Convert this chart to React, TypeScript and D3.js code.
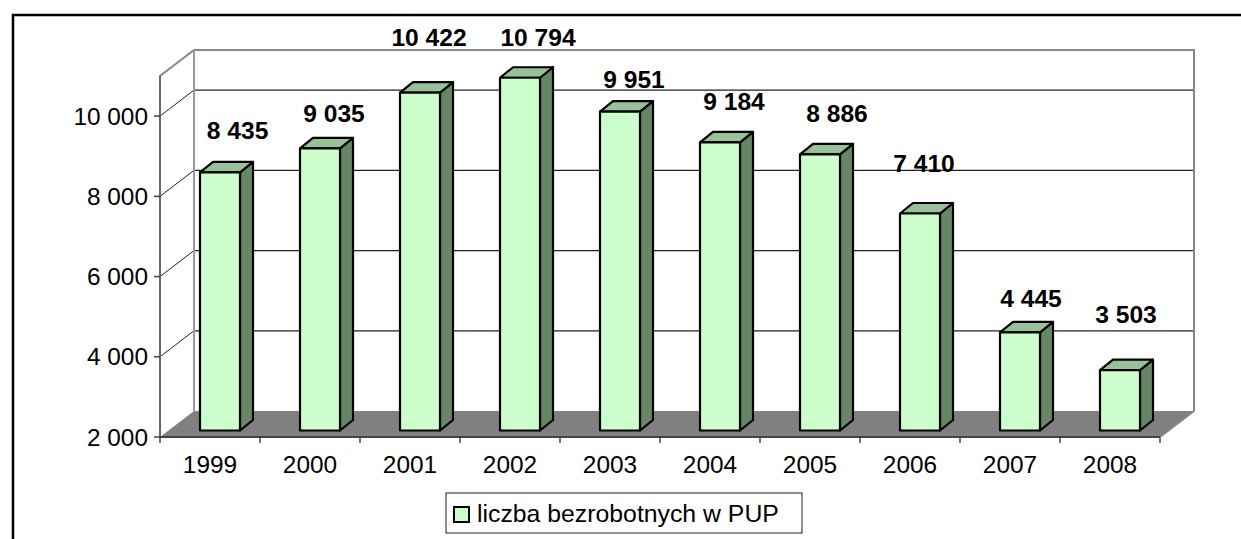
import React from "react";
import * as d3 from "d3";

const years = ["1999", "2000", "2001", "2002", "2003", "2004", "2005", "2006", "2007", "2008"];
const unemployed = [8435, 9035, 10422, 10794, 9951, 9184, 8886, 7410, 4445, 3503];
const yTicks = [2000, 4000, 6000, 8000, 10000];
const seriesName = "liczba bezrobotnych w PUP";

// label placement tweaks (layout, px) relative to bar top
const labelShift: [number, number][] = [
  [17.6, -33], [14, -26.5], [9, -46.5], [18, -31.6], [14, -23.5],
  [14, -32], [17, -32], [4, -41.5], [11, -25.5], [6, -47],
];

const fmt = (v: number) => d3.format(",")(v).replace(/,/g, " ");

export default function App() {
  const W = 1241, H = 539;
  const x0 = 160, x1 = 1160;
  const yBase = 437, yTop = 76;
  const DX = 34, DY = -26; // depth projection
  const bz1x = 10, bz1y = -6.5; // bar front face offset
  const bdx = 13, bdy = -10.5; // bar depth
  const barW = 40;

  const x = d3.scaleBand<string>().domain(years).range([x0, x1]).padding(0);
  const y = d3.scaleLinear().domain([2000, 11000]).range([yBase, yTop]);

  const front = "#CCFFCC", top = "#99C199", side = "#668766";
  const font = "'Liberation Sans', Arial, sans-serif";

  const wallTop = y(11000);

  return (
    <svg width={W} height={H} style={{ position: "absolute", left: 0, top: 0, background: "#fff" }} fontFamily={font}>
      {/* outer border */}
      <rect x={13} y={15} width={1260} height={560} fill="none" stroke="#000" strokeWidth={2.5} />

      {/* floor */}
      <polygon
        points={`${x0},${yBase} ${x1},${yBase} ${x1 + DX},${yBase + DY} ${x0 + DX},${yBase + DY}`}
        fill="#808080"
      />
      {/* back wall gridlines */}
      {yTicks.filter(t => t > 2000).map(t => (
        <g key={t}>
          <line x1={x0 + DX} x2={x1 + DX} y1={y(t) + DY} y2={y(t) + DY} stroke="#222" strokeWidth={1.2} />
          <line x1={x0} x2={x0 + DX} y1={y(t)} y2={y(t) + DY} stroke="#222" strokeWidth={1} />
        </g>
      ))}
      {/* walls edges */}
      <polyline
        points={`${x0},${yBase} ${x0},${wallTop} ${x0 + DX},${wallTop + DY} ${x1 + DX},${wallTop + DY} ${x1 + DX},${yBase + DY} ${x1},${yBase}`}
        fill="none" stroke="#888" strokeWidth={2}
      />
      <line x1={x0 + DX} x2={x0 + DX} y1={wallTop + DY} y2={yBase + DY} stroke="#999" strokeWidth={2} />
      <line x1={x0} x2={x0} y1={wallTop} y2={yBase} stroke="#666" strokeWidth={2} />

      {/* x axis */}
      <line x1={x0} x2={x1} y1={yBase} y2={yBase} stroke="#444" strokeWidth={2} />
      {d3.range(years.length + 1).map(i => {
        const xx = x0 + i * x.bandwidth();
        return <line key={i} x1={xx} x2={xx} y1={yBase} y2={yBase + 6} stroke="#444" strokeWidth={1.5} />;
      })}
      {years.map(yr => (
        <text key={yr} x={(x(yr) as number) + x.bandwidth() / 2} y={473} fontSize={24.4} textAnchor="middle" fill="#000">
          {yr}
        </text>
      ))}

      {/* y axis ticks & labels */}
      {yTicks.map(t => (
        <g key={t}>
          <line x1={x0 - 6} x2={x0} y1={y(t)} y2={y(t)} stroke="#444" strokeWidth={1.5} />
          <text x={148} y={y(t) + 8.5} fontSize={24.4} textAnchor="end" fill="#000">{fmt(t)}</text>
        </g>
      ))}

      {/* bars */}
      {years.map((yr, i) => {
        const v = unemployed[i];
        const fx = (x(yr) as number) + (x.bandwidth() - barW) / 2 + bz1x;
        const fyT = y(v) + bz1y;
        const fyB = yBase + bz1y;
        return (
          <g key={yr} stroke="#000" strokeWidth={2.2} strokeLinejoin="round">
            <polygon
              points={`${fx + barW},${fyT} ${fx + barW + bdx},${fyT + bdy} ${fx + barW + bdx},${fyB + bdy} ${fx + barW},${fyB}`}
              fill={side}
            />
            <polygon
              points={`${fx},${fyT} ${fx + bdx},${fyT + bdy} ${fx + barW + bdx},${fyT + bdy} ${fx + barW},${fyT}`}
              fill={top}
            />
            <rect x={fx} y={fyT} width={barW} height={fyB - fyT} fill={front} />
          </g>
        );
      })}

      {/* value labels */}
      {years.map((yr, i) => {
        const v = unemployed[i];
        const cx = (x(yr) as number) + x.bandwidth() / 2 + bz1x + labelShift[i][0];
        const by = y(v) + bz1y + labelShift[i][1];
        return (
          <text key={yr} x={cx} y={by} fontSize={24.6} fontWeight="bold" textAnchor="middle" fill="#000">
            {fmt(v)}
          </text>
        );
      })}

      {/* legend */}
      <rect x={446} y={493} width={356} height={40} fill="#fff" stroke="#222" strokeWidth={1} />
      <rect x={454} y={507} width={15} height={15} fill={front} stroke="#000" strokeWidth={2} />
      <text x={477} y={522} fontSize={24.8} fill="#000">{seriesName}</text>
    </svg>
  );
}
